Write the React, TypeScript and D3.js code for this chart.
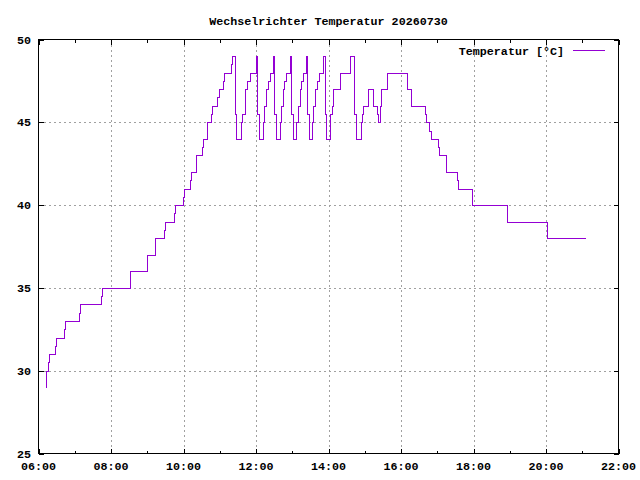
import React from 'react';
import * as d3 from 'd3';

// readings: time of change and the new temperature (step chart)
const times = [
  '06:12', '06:13', '06:16', '06:18', '06:27', '06:29', '06:42', '06:44',
  '07:07', '07:09', '07:44', '07:45', '08:32', '09:00', '09:13', '09:28',
  '09:30', '09:45', '09:46', '09:59', '10:01', '10:11', '10:13', '10:21',
  '10:30', '10:32', '10:39', '10:45', '10:47', '10:56', '10:58', '11:06',
  '11:07', '11:19', '11:21', '11:26', '11:27', '11:35', '11:36', '11:41',
  '11:45', '11:50', '12:00', '12:02', '12:05', '12:12', '12:14', '12:17',
  '12:20', '12:23', '12:28', '12:30', '12:33', '12:39', '12:41', '12:44',
  '12:47', '12:50', '12:57', '12:58', '13:01', '13:07', '13:09', '13:12',
  '13:15', '13:18', '13:23', '13:25', '13:28', '13:33', '13:35', '13:38',
  '13:41', '13:44', '13:51', '13:54', '13:56', '14:02', '14:03', '14:05',
  '14:08', '14:19', '14:35', '14:42', '14:46', '14:53', '14:55', '14:57',
  '15:05', '15:14', '15:20', '15:22', '15:25', '15:27', '15:37', '16:10',
  '16:17', '16:40', '16:42', '16:46', '16:49', '17:01', '17:03', '17:14',
  '17:15', '17:33', '17:35', '17:57', '18:55', '20:01', '20:02', '21:04',
];

const temps = [
  29, 30, 30.5, 31, 31.5, 32, 32.5, 33,
  33.5, 34, 34.5, 35, 36, 37, 38, 38.5,
  39, 39.5, 40, 40.5, 41, 41.5, 42, 43,
  43.5, 44, 45, 45.5, 46, 46.5, 47, 47.5,
  48, 48.5, 49, 45.5, 44, 45, 45.5, 47,
  47.5, 48, 49, 45.5, 44, 45, 46, 47,
  47.5, 48, 49, 45.5, 44, 45, 46, 47,
  47.5, 48, 49, 45.5, 44, 45, 46, 47,
  47.5, 48, 49, 45.5, 44, 45, 46, 47,
  47.5, 48, 49, 45.5, 44, 45, 45.5, 46,
  47, 48, 49, 45.5, 44, 45, 45.5, 46,
  47, 46, 45.5, 45, 46, 47, 48, 47,
  46, 45.5, 45, 44.5, 44, 43.5, 43, 42.5,
  42, 41.5, 41, 40, 39, 38.5, 38, 38,
];

const title = 'Wechselrichter Temperatur 20260730';
const seriesName = 'Temperatur [°C]';
const yTicks = [25, 30, 35, 40, 45, 50];
const xMajorHours = [6, 8, 10, 12, 14, 16, 18, 20, 22];
const xMinorHours = [7, 9, 11, 13, 15, 17, 19, 21];

const toMin = (s: string) => {
  const [h, m] = s.split(':').map(Number);
  return h * 60 + m;
};
const fmtHour = (h: number) => `${String(h).padStart(2, '0')}:00`;

export default function App() {
  const left = 38.5, right = 618.5, top = 39.5, bottom = 453.5;
  const font = '"Liberation Mono", "DejaVu Sans Mono", monospace';

  const x = d3.scaleLinear().domain([360, 1320]).range([left, right]);
  const y = d3.scaleLinear().domain([25, 50]).range([bottom, top]);

  const data = times.map((t, i) => ({ t: toMin(t), v: temps[i] }));
  const line = d3.line<{ t: number; v: number }>()
    .x(d => Math.round(x(d.t)) + 0.5)
    .y(d => Math.round(y(d.v)) + 0.5)
    .curve(d3.curveStepAfter);

  const major = 5, minor = 3;
  const gridColor = '#a0a0a0';

  return (
    <svg width={640} height={480} style={{ position: 'absolute', left: 0, top: 0, background: '#fff' }}
      fontFamily={font} fontWeight="bold" fontSize={11.7}>
      <rect x={0} y={0} width={640} height={480} fill="#fff" />

      {/* grid */}
      <g stroke={gridColor} strokeWidth={1} strokeDasharray="2,3" shapeRendering="crispEdges">
        {xMajorHours.slice(1, -1).map(h => (
          <line key={'gx' + h} x1={Math.round(x(h * 60)) + 0.5} x2={Math.round(x(h * 60)) + 0.5} y1={top} y2={bottom} />
        ))}
        {yTicks.slice(1, -1).map(v => (
          <line key={'gy' + v} x1={left} x2={right} y1={Math.round(y(v)) + 0.5} y2={Math.round(y(v)) + 0.5} />
        ))}
      </g>

      {/* ticks */}
      <g stroke="#000" strokeWidth={1} shapeRendering="crispEdges">
        {xMajorHours.map(h => {
          const px = Math.round(x(h * 60)) + 0.5;
          return (
            <g key={'tx' + h}>
              <line x1={px} x2={px} y1={bottom} y2={bottom - major} />
              <line x1={px} x2={px} y1={top} y2={top + major} />
            </g>
          );
        })}
        {xMinorHours.map(h => {
          const px = Math.round(x(h * 60)) + 0.5;
          return (
            <g key={'mx' + h}>
              <line x1={px} x2={px} y1={bottom} y2={bottom - minor} />
              <line x1={px} x2={px} y1={top} y2={top + minor} />
            </g>
          );
        })}
        {yTicks.map(v => {
          const py = Math.round(y(v)) + 0.5;
          return (
            <g key={'ty' + v}>
              <line x1={left} x2={left + major} y1={py} y2={py} />
              <line x1={right} x2={right - major} y1={py} y2={py} />
            </g>
          );
        })}
      </g>

      {/* data */}
      <path d={line(data) ?? ''} fill="none" stroke="#9400d3" strokeWidth={1} shapeRendering="crispEdges" />

      {/* frame */}
      <rect x={left} y={top} width={right - left} height={bottom - top} fill="none" stroke="#000" strokeWidth={1} shapeRendering="crispEdges" />

      {/* labels */}
      {yTicks.map(v => (
        <text key={'ly' + v} x={31} y={y(v) + 4} textAnchor="end" fill="#000">{v}</text>
      ))}
      {xMajorHours.map(h => (
        <text key={'lx' + h} x={x(h * 60)} y={470} textAnchor="middle" fill="#000">{fmtHour(h)}</text>
      ))}

      <text x={(left + right) / 2} y={25} textAnchor="middle" fill="#000">{title}</text>

      {/* legend */}
      <text x={564} y={55} textAnchor="end" fill="#000">{seriesName}</text>
      <line x1={573} x2={605} y1={50.5} y2={50.5} stroke="#9400d3" strokeWidth={1} shapeRendering="crispEdges" />
    </svg>
  );
}
